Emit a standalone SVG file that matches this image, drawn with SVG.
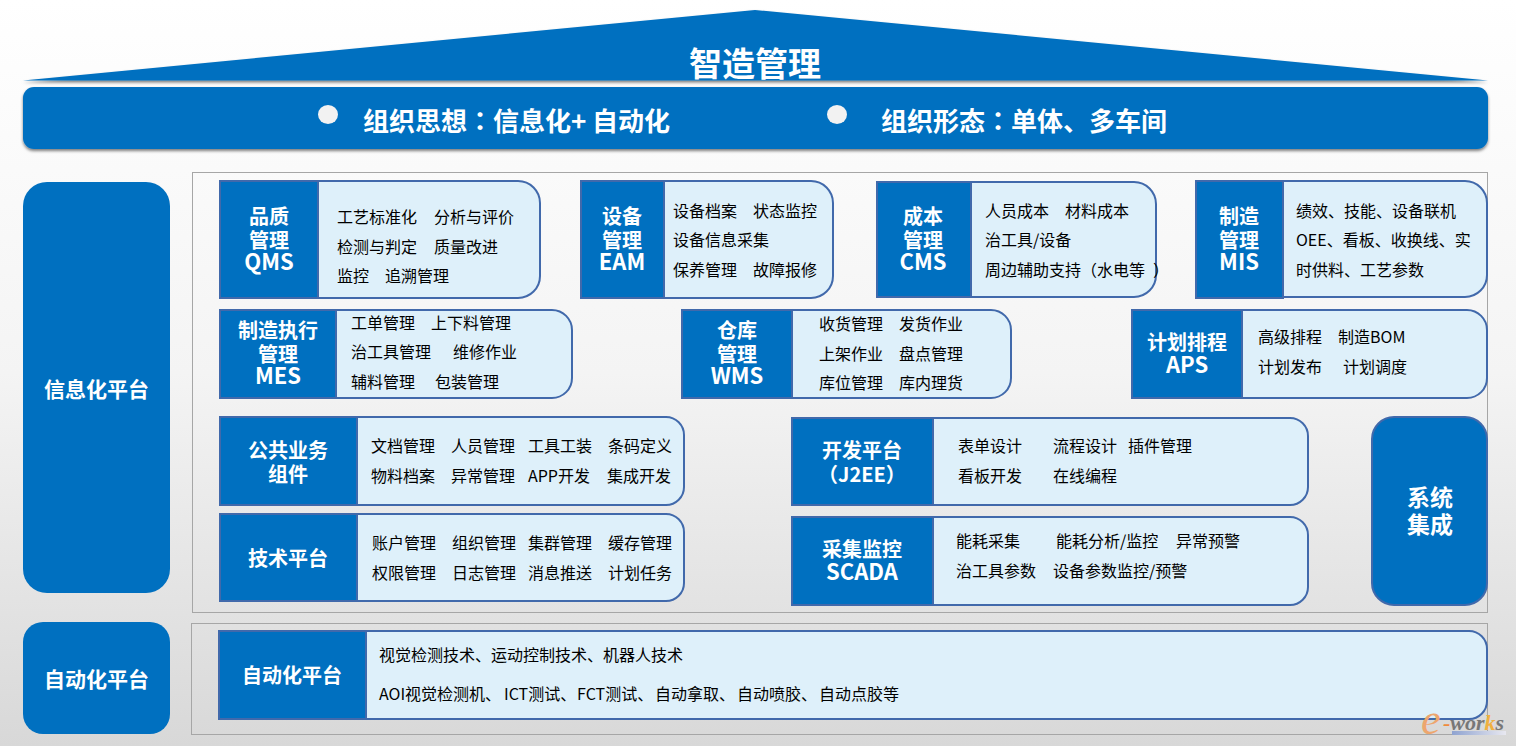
<svg xmlns="http://www.w3.org/2000/svg" width="1516" height="746" viewBox="0 0 1516 746">
<style>
text{font-family:"Noto Sans CJK SC","Noto Sans",sans-serif}
.b{fill:#000;font-size:16px}
.h{fill:#fff;font-size:20px;font-weight:700;text-anchor:middle}
.l{font-size:21px}
.la{font-size:22px}
.big{fill:#fff;font-size:26px;font-weight:700}
.col{font-family:"Noto Sans CJK TC",sans-serif}
.wm{font-family:"Liberation Serif",serif;font-style:italic}
.blue{fill:#0070c0}
.body{fill:#def0fa;stroke:#4169ab;stroke-width:2}
.head{fill:#0070c0;stroke:#4169ab;stroke-width:2}
.frame{fill:none;stroke:#a6a6a6;stroke-width:1}
</style>
<defs>
<linearGradient id="bg" x1="0" y1="0" x2="0" y2="1"><stop offset="0" stop-color="#fff"/><stop offset="0.5" stop-color="#f4f4f4"/><stop offset="1" stop-color="#d8d8d8"/></linearGradient>
<linearGradient id="wl" x1="0" y1="0" x2="1" y2="0"><stop offset="0" stop-color="#8fa3d0"/><stop offset="1" stop-color="#e8e8f0"/></linearGradient>
<filter id="sh" x="-2%" y="-20%" width="104%" height="140%"><feDropShadow dx="0" dy="2" stdDeviation="1.500" flood-color="#000" flood-opacity=".5"/></filter>
</defs>
<rect width="1516" height="746" fill="url(#bg)"/>
<g id="roof"><polygon class="blue" filter="url(#sh)" points="23,80.500 755,10 1488,80.500"/><text x="755" y="76" fill="#fff" font-size="33" font-weight="700" text-anchor="middle">智造管理</text></g>
<g id="banner"><rect class="blue" filter="url(#sh)" x="23" y="87" width="1465" height="62" rx="11"/>
<ellipse cx="328" cy="114.500" rx="10" ry="9.500" fill="#f2f2f2"/><ellipse cx="837" cy="114.500" rx="10" ry="9.500" fill="#f2f2f2"/>
<text class="big" y="131" x="363">组织思想<tspan class="col">：</tspan>信息化+<tspan x="592">自动化</tspan></text>
<text class="big" y="131" x="881">组织形态<tspan class="col">：</tspan>单体、多车间</text></g>
<rect class="frame" x="192.500" y="172.500" width="1295" height="440"/>
<rect class="frame" x="191.500" y="623.500" width="1296" height="111"/>
<g id="info-platform"><rect class="blue" x="23" y="182" width="147" height="411" rx="24"/><text class="h l" x="96.500" y="397">信息化平台</text></g>
<g id="auto-platform"><rect class="blue" x="23" y="622" width="147" height="112" rx="20"/><text class="h l" x="96.500" y="687">自动化平台</text></g>
<g id="qms"><rect class="body" x="220" y="181" width="320" height="117" rx="22"/><rect class="head" x="220" y="181" width="98" height="117"/>
<text class="h" x="269" y="224">品质</text><text class="h" x="269" y="248">管理</text><text class="h la" x="269" y="270">QMS</text>
<text class="b" y="223"><tspan x="337">工艺标准化</tspan><tspan x="434">分析与评价</tspan></text><text class="b" y="253"><tspan x="337">检测与判定</tspan><tspan x="434">质量改进</tspan></text><text class="b" y="282"><tspan x="337">监控</tspan><tspan x="385">追溯管理</tspan></text></g>
<g id="eam"><rect class="body" x="581" y="181" width="252" height="117" rx="22"/><rect class="head" x="581" y="181" width="83" height="117"/>
<text class="h" x="622" y="224">设备</text><text class="h" x="622" y="248">管理</text><text class="h la" x="622" y="270">EAM</text>
<text class="b" y="217"><tspan x="673">设备档案</tspan><tspan x="753">状态监控</tspan></text><text class="b" y="246"><tspan x="673">设备信息采集</tspan></text><text class="b" y="276"><tspan x="673">保养管理</tspan><tspan x="753">故障报修</tspan></text></g>
<g id="cms"><rect class="body" x="877" y="182" width="279" height="115" rx="22"/><rect class="head" x="877" y="182" width="94" height="115"/>
<text class="h" x="923" y="224">成本</text><text class="h" x="923" y="248">管理</text><text class="h la" x="923" y="270">CMS</text>
<text class="b" y="217"><tspan x="985">人员成本</tspan><tspan x="1065">材料成本</tspan></text><text class="b" y="246"><tspan x="985">治工具/设备</tspan></text><text class="b" y="276"><tspan x="985">周边辅助支持（水电等</tspan><tspan x="1153">）</tspan></text></g>
<g id="mis"><rect class="body" x="1196" y="181" width="291" height="116" rx="22"/><rect class="head" x="1196" y="181" width="87" height="117"/>
<text class="h" x="1239" y="224">制造</text><text class="h" x="1239" y="248">管理</text><text class="h la" x="1239" y="270">MIS</text>
<text class="b" y="217" x="1296">绩效、技能、设备联机</text><text class="b" y="246" x="1296">OEE、看板、收换线、实</text><text class="b" y="276" x="1296">时供料、工艺参数</text></g>
<g id="mes"><rect class="body" x="220" y="310" width="352" height="88" rx="20"/><rect class="head" x="220" y="310" width="116" height="88"/>
<text class="h" x="278" y="338">制造执行</text><text class="h" x="278" y="362">管理</text><text class="h la" x="278" y="384">MES</text>
<text class="b" y="329"><tspan x="351">工单管理</tspan><tspan x="431">上下料管理</tspan></text><text class="b" y="358"><tspan x="351">治工具管理</tspan><tspan x="453">维修作业</tspan></text><text class="b" y="388"><tspan x="351">辅料管理</tspan><tspan x="435">包装管理</tspan></text></g>
<g id="wms"><rect class="body" x="682" y="310" width="329" height="88" rx="20"/><rect class="head" x="682" y="310" width="110" height="88"/>
<text class="h" x="737" y="338">仓库</text><text class="h" x="737" y="362">管理</text><text class="h la" x="737" y="384">WMS</text>
<text class="b" y="330"><tspan x="819">收货管理</tspan><tspan x="899">发货作业</tspan></text><text class="b" y="360"><tspan x="819">上架作业</tspan><tspan x="899">盘点管理</tspan></text><text class="b" y="389"><tspan x="819">库位管理</tspan><tspan x="899">库内理货</tspan></text></g>
<g id="aps"><rect class="body" x="1132" y="310" width="355" height="88" rx="20"/><rect class="head" x="1132" y="310" width="110" height="88"/>
<text class="h" x="1187" y="350">计划排程</text><text class="h la" x="1187" y="373">APS</text>
<text class="b" y="343"><tspan x="1258">高级排程</tspan><tspan x="1338">制造BOM</tspan></text><text class="b" y="373"><tspan x="1258">计划发布</tspan><tspan x="1343">计划调度</tspan></text></g>
<g id="common"><rect class="body" x="220" y="417" width="464" height="88" rx="18"/><rect class="head" x="220" y="417" width="137" height="88"/>
<text class="h" x="288" y="458">公共业务</text><text class="h" x="288" y="482">组件</text>
<text class="b" y="452"><tspan x="371">文档管理</tspan><tspan x="451">人员管理</tspan><tspan x="528">工具工装</tspan><tspan x="608">条码定义</tspan></text><text class="b" y="482"><tspan x="371">物料档案</tspan><tspan x="451">异常管理</tspan><tspan x="528">APP开发</tspan><tspan x="607">集成开发</tspan></text></g>
<g id="tech"><rect class="body" x="220" y="514" width="464" height="87" rx="18"/><rect class="head" x="220" y="514" width="137" height="87"/>
<text class="h" x="288" y="566">技术平台</text>
<text class="b" y="549"><tspan x="372">账户管理</tspan><tspan x="452">组织管理</tspan><tspan x="528">集群管理</tspan><tspan x="608">缓存管理</tspan></text><text class="b" y="579"><tspan x="372">权限管理</tspan><tspan x="452">日志管理</tspan><tspan x="528">消息推送</tspan><tspan x="608">计划任务</tspan></text></g>
<g id="dev"><rect class="body" x="792" y="418" width="516" height="87" rx="18"/><rect class="head" x="792" y="418" width="141" height="87"/>
<text class="h" x="862" y="458">开发平台</text><text class="h" x="862" y="482">（J2EE）</text>
<text class="b" y="452"><tspan x="958">表单设计</tspan><tspan x="1053">流程设计</tspan><tspan x="1128">插件管理</tspan></text><text class="b" y="482"><tspan x="958">看板开发</tspan><tspan x="1053">在线编程</tspan></text></g>
<g id="scada"><rect class="body" x="792" y="517" width="516" height="88" rx="18"/><rect class="head" x="792" y="517" width="141" height="88"/>
<text class="h" x="862" y="557">采集监控</text><text class="h la" x="862" y="580">SCADA</text>
<text class="b" y="547"><tspan x="956">能耗采集</tspan><tspan x="1056">能耗分析/监控</tspan><tspan x="1176">异常预警</tspan></text><text class="b" y="577"><tspan x="956">治工具参数</tspan><tspan x="1053">设备参数监控/预警</tspan></text></g>
<g id="integration"><rect x="1372" y="417" width="115" height="188" rx="22" fill="#0070c0" stroke="#4169ab" stroke-width="2"/><text class="h" x="1430" y="506" style="font-size:23px">系统</text><text class="h" x="1430" y="533" style="font-size:23px">集成</text></g>
<g id="auto"><rect class="body" x="219" y="631" width="1268" height="88" rx="18"/><rect class="head" x="219" y="631" width="147" height="88"/>
<text class="h" x="292" y="683">自动化平台</text>
<text class="b" x="379" y="661">视觉检测技术、运动控制技术、机器人技术</text><text class="b" y="700"><tspan x="379">AOI视觉检测机、</tspan><tspan x="504">ICT测试、</tspan><tspan x="577">FCT测试、</tspan><tspan x="655">自动拿取、</tspan><tspan x="737">自动喷胶、</tspan><tspan x="819">自动点胶等</tspan></text></g>
<g id="watermark"><text class="wm" x="1421" y="734" font-size="44" fill="#eda66e">e</text><text class="wm" x="1443" y="730" font-size="22" font-weight="700" fill="#777"><tspan fill="#ef8a3c">-</tspan>wor<tspan fill="#f0b040">k</tspan>s</text><rect x="1452" y="731" width="54" height="4" fill="url(#wl)"/></g>
</svg>
